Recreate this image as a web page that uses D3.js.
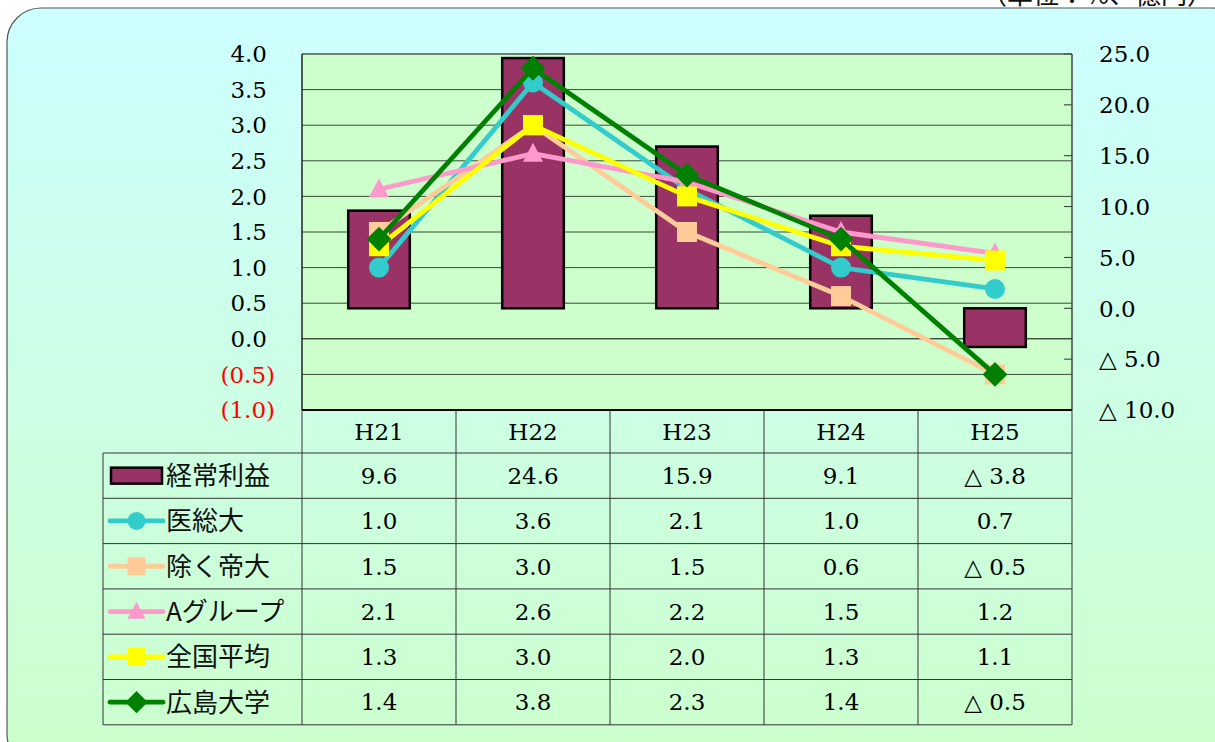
<!DOCTYPE html>
<html>
<head>
<meta charset="utf-8">
<script src="https://cdn.jsdelivr.net/npm/d3@7"></script>
<style>
  html, body { margin: 0; padding: 0; background: #ffffff; }
  svg { display: block; }
  .num { font-family: "DejaVu Serif", "Liberation Serif", serif; }
  .jp { font-family: "Noto Sans CJK JP", sans-serif; }
</style>
</head>
<body>
<svg id="chart" width="1215" height="742"></svg>
<script>
// Fiscal years
const categories = ["H21", "H22", "H23", "H24", "H25"];
// 経常利益 (億円, right axis)
const profitValues = [9.6, 24.6, 15.9, 9.1, -3.8];
// Ratios (%, left axis)
const ikaSoudai = [1.0, 3.6, 2.1, 1.0, 0.7];
const nozokuTeidai = [1.5, 3.0, 1.5, 0.6, -0.5];
const aGroup = [2.1, 2.6, 2.2, 1.5, 1.2];
const zenkokuHeikin = [1.3, 3.0, 2.0, 1.3, 1.1];
const hiroshimaDaigaku = [1.4, 3.8, 2.3, 1.4, -0.5];
// Axis ticks
const leftTicks = [4.0, 3.5, 3.0, 2.5, 2.0, 1.5, 1.0, 0.5, 0.0, -0.5, -1.0];
const rightTicks = [25, 20, 15, 10, 5, 0, -5, -10];

const lineSeries = [
  { name: "医総大", values: ikaSoudai, color: "#33cccc", marker: "circle" },
  { name: "除く帝大", values: nozokuTeidai, color: "#ffcc99", marker: "square" },
  { name: "Aグループ", values: aGroup, color: "#ff99cc", marker: "triangle" },
  { name: "全国平均", values: zenkokuHeikin, color: "#ffff00", marker: "square" },
  { name: "広島大学", values: hiroshimaDaigaku, color: "#008000", marker: "diamond" }
];
const barSeries = { name: "経常利益", values: profitValues, color: "#993366" };

const svg = d3.select("#chart");

// Outer rounded panel with cyan-to-green gradient
const defs = svg.append("defs");
const grad = defs.append("linearGradient").attr("id", "panelGrad")
  .attr("x1", 0).attr("y1", 0).attr("x2", 0).attr("y2", 1);
grad.append("stop").attr("offset", "0%").attr("stop-color", "#ccffff");
grad.append("stop").attr("offset", "100%").attr("stop-color", "#ccffcc");

svg.append("rect")
  .attr("x", 7).attr("y", 8).attr("width", 1240).attr("height", 760)
  .attr("rx", 34).attr("ry", 34)
  .attr("fill", "url(#panelGrad)")
  .attr("stroke", "#555").attr("stroke-width", 1.2);

// Unit note along the top edge
svg.append("text").attr("class", "jp")
  .attr("x", 1213).attr("y", 4)
  .attr("text-anchor", "end")
  .attr("font-size", 26).attr("fill", "#111")
  .text("（単位：%、億円）");

// Plot geometry
const plot = { left: 302, right: 1072, top: 54, bottom: 410 };

const x = d3.scaleBand().domain(categories).range([plot.left, plot.right]).padding(0);
const xBar = d3.scaleBand().domain(categories).range([plot.left, plot.right])
  .paddingInner(0.6).paddingOuter(0.3);
const yLeft = d3.scaleLinear().domain([-1, 4]).range([plot.bottom, plot.top]);
const yRight = d3.scaleLinear().domain([-10, 25]).range([plot.bottom, plot.top]);
const cx = c => x(c) + x.bandwidth() / 2;

// Plot background
svg.append("rect")
  .attr("x", plot.left).attr("y", plot.top)
  .attr("width", plot.right - plot.left).attr("height", plot.bottom - plot.top)
  .attr("fill", "#ccffcc");

// Horizontal gridlines from the left axis
svg.append("g").selectAll("line")
  .data(leftTicks.filter(t => t > -1 && t < 4))
  .join("line")
  .attr("x1", plot.left).attr("x2", plot.right)
  .attr("y1", d => yLeft(d)).attr("y2", d => yLeft(d))
  .attr("stroke", d => d === 0 ? "#000" : "#3a4a3a")
  .attr("stroke-width", 1);

// Right axis inward ticks
svg.append("g").selectAll("line")
  .data(rightTicks)
  .join("line")
  .attr("x1", plot.right - 8).attr("x2", plot.right)
  .attr("y1", d => yRight(d)).attr("y2", d => yRight(d))
  .attr("stroke", "#333").attr("stroke-width", 1);

// Plot frame
svg.append("line").attr("x1", plot.left).attr("x2", plot.right)
  .attr("y1", plot.top).attr("y2", plot.top)
  .attr("stroke", "#555").attr("stroke-width", 1.5);
svg.append("line").attr("x1", plot.right).attr("x2", plot.right)
  .attr("y1", plot.top).attr("y2", plot.bottom)
  .attr("stroke", "#444").attr("stroke-width", 1.5);
svg.append("line").attr("x1", plot.left).attr("x2", plot.left)
  .attr("y1", plot.top).attr("y2", plot.bottom)
  .attr("stroke", "#222").attr("stroke-width", 1.5);

// Bars (経常利益, right axis)
svg.append("g").selectAll("rect")
  .data(categories.map((c, i) => ({ c, v: barSeries.values[i] })))
  .join("rect")
  .attr("x", d => xBar(d.c))
  .attr("width", xBar.bandwidth())
  .attr("y", d => Math.min(yRight(d.v), yRight(0)))
  .attr("height", d => Math.abs(yRight(d.v) - yRight(0)))
  .attr("fill", barSeries.color)
  .attr("stroke", "#000").attr("stroke-width", 2.5);

svg.append("line").attr("x1", plot.left).attr("x2", plot.right)
  .attr("y1", plot.bottom).attr("y2", plot.bottom)
  .attr("stroke", "#000").attr("stroke-width", 2);

// Marker drawing helper
function drawMarker(g, type, px, py, color, size) {
  const s = size;
  if (type === "circle") {
    g.append("circle").attr("cx", px).attr("cy", py).attr("r", s / 2).attr("fill", color);
  } else if (type === "square") {
    g.append("rect").attr("x", px - s / 2).attr("y", py - s / 2)
      .attr("width", s).attr("height", s).attr("fill", color);
  } else if (type === "triangle") {
    g.append("path")
      .attr("d", `M${px},${py - s * 0.55}L${px + s * 0.5},${py + s * 0.4}L${px - s * 0.5},${py + s * 0.4}Z`)
      .attr("fill", color);
  } else if (type === "diamond") {
    const h = s * 0.62;
    g.append("path")
      .attr("d", `M${px},${py - h}L${px + h},${py}L${px},${py + h}L${px - h},${py}Z`)
      .attr("fill", color);
  }
}

// Lines with markers (left axis)
const lineGen = d3.line().x(d => cx(d.c)).y(d => yLeft(d.v));
lineSeries.forEach(s => {
  const g = svg.append("g");
  const pts = categories.map((c, i) => ({ c, v: s.values[i] }));
  g.append("path").datum(pts)
    .attr("d", lineGen)
    .attr("fill", "none")
    .attr("stroke", s.color).attr("stroke-width", 4.8)
    .attr("stroke-linejoin", "round");
  pts.forEach(p => drawMarker(g, s.marker, cx(p.c), yLeft(p.v), s.color, 20));
});

// Left axis labels
svg.append("g").selectAll("text")
  .data(leftTicks)
  .join("text")
  .attr("class", "num")
  .attr("x", d => d < 0 ? 275 : 267)
  .attr("y", d => yLeft(d))
  .attr("dy", "0.36em")
  .attr("text-anchor", "end")
  .attr("font-size", 23)
  .attr("fill", d => d < 0 ? "#ff0000" : "#000")
  .text(d => d < 0 ? `(${Math.abs(d).toFixed(1)})` : d.toFixed(1));

// Right axis labels
svg.append("g").selectAll("text")
  .data(rightTicks)
  .join("text")
  .attr("class", "num")
  .attr("x", 1099)
  .attr("y", d => yRight(d))
  .attr("dy", "0.36em")
  .attr("font-size", 23)
  .attr("fill", "#000")
  .text(d => d < 0 ? `△ ${Math.abs(d).toFixed(1)}` : d.toFixed(1));

// Data table
const table = { left: 103, top: plot.bottom, headerH: 43, rowH: 45.3 };
const rows = [
  { name: barSeries.name, values: barSeries.values, color: barSeries.color, type: "bar" },
  ...lineSeries.map(s => ({ name: s.name, values: s.values, color: s.color, type: "line", marker: s.marker }))
];
const tableBottom = table.top + table.headerH + rows.length * table.rowH;
const fmt = v => v < 0 ? `△ ${Math.abs(v).toFixed(1)}` : v.toFixed(1);

const tg = svg.append("g");
// Column lines
categories.forEach(c => {
  tg.append("line").attr("x1", x(c)).attr("x2", x(c))
    .attr("y1", table.top).attr("y2", tableBottom)
    .attr("stroke", "#333").attr("stroke-width", 1);
});
tg.append("line").attr("x1", plot.right).attr("x2", plot.right)
  .attr("y1", table.top).attr("y2", tableBottom)
  .attr("stroke", "#333").attr("stroke-width", 1);
tg.append("line").attr("x1", table.left).attr("x2", table.left)
  .attr("y1", table.top + table.headerH).attr("y2", tableBottom)
  .attr("stroke", "#333").attr("stroke-width", 1);
// Row lines
d3.range(rows.length + 1).forEach(i => {
  const yy = table.top + table.headerH + i * table.rowH;
  tg.append("line").attr("x1", table.left).attr("x2", plot.right)
    .attr("y1", yy).attr("y2", yy)
    .attr("stroke", "#333").attr("stroke-width", 1);
});

// Header
tg.selectAll("text.hdr")
  .data(categories)
  .join("text")
  .attr("class", "num hdr")
  .attr("x", d => cx(d))
  .attr("y", table.top + table.headerH / 2)
  .attr("dy", "0.36em")
  .attr("text-anchor", "middle")
  .attr("font-size", 23)
  .text(d => d);

// Body
rows.forEach((r, i) => {
  const yc = table.top + table.headerH + i * table.rowH + table.rowH / 2;
  if (r.type === "bar") {
    tg.append("rect").attr("x", 111).attr("y", yc - 8)
      .attr("width", 51).attr("height", 16)
      .attr("fill", r.color).attr("stroke", "#000").attr("stroke-width", 2.5);
  } else {
    tg.append("line").attr("x1", 110).attr("x2", 163)
      .attr("y1", yc).attr("y2", yc)
      .attr("stroke", r.color).attr("stroke-width", 4.8)
      .attr("stroke-linecap", "round");
    drawMarker(tg, r.marker, 136.5, yc, r.color, 18);
  }
  tg.append("text").attr("class", "jp")
    .attr("x", 166).attr("y", yc).attr("dy", "0.36em")
    .attr("font-size", 26).attr("fill", "#111")
    .text(r.name);
  r.values.forEach((v, j) => {
    tg.append("text").attr("class", "num")
      .attr("x", cx(categories[j])).attr("y", yc).attr("dy", "0.36em")
      .attr("text-anchor", "middle").attr("font-size", 23)
      .text(fmt(v));
  });
});
</script>
</body>
</html>
